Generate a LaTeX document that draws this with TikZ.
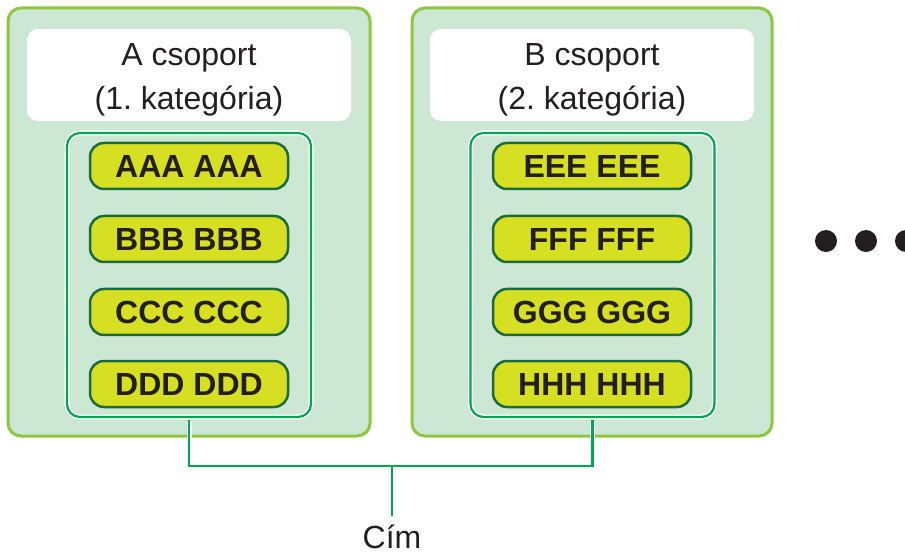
\documentclass[tikz,border=0pt]{standalone}
\usepackage{fontspec}
\setmainfont{Liberation Sans}
\frenchspacing
\definecolor{outerfill}{HTML}{CDE7D5}
\definecolor{outerline}{HTML}{8DC63F}
\definecolor{innerline}{HTML}{00A651}
\definecolor{pillfill}{HTML}{D7DF23}
\definecolor{pillline}{HTML}{1A6B3A}
\definecolor{ink}{HTML}{231F20}
\tikzset{
  outerbox/.style={draw=outerline, line width=3pt, fill=outerfill, rounded corners=13pt, minimum height=428pt, inner sep=0pt},
  titlebox/.style={fill=white, rounded corners=11pt, minimum width=324pt, minimum height=92pt, inner sep=0pt},
  titletext/.style={anchor=base, inner sep=0pt, text=ink, font=\fontsize{32}{36}\selectfont},
  innerbox/.style={draw=white, line width=5pt, rounded corners=13pt, minimum width=244pt, minimum height=284pt, inner sep=0pt,
    postaction={draw=innerline, line width=2.2pt, rounded corners=13pt}},
  pill/.style={draw=pillline, line width=2.5pt, fill=pillfill, rounded corners=14pt, minimum width=198pt, minimum height=46pt, inner sep=0pt, text=ink, font=\fontsize{32}{34}\selectfont\bfseries},
  linkhalo/.style={draw=white, line width=5pt},
  link/.style={draw=innerline, line width=2.5pt},
  label/.style={text=ink, inner sep=0pt, font=\fontsize{32}{34}\selectfont},
  dot/.style={fill=ink, circle, minimum size=22pt, inner sep=0pt}
}
\begin{document}
\begin{tikzpicture}[x=1pt, y=-1pt]
\useasboundingbox (0,0) rectangle (905,553);
% outer group boxes
\node[outerbox, minimum width=362pt] (outerA) at (189,222) {};
\node[outerbox, minimum width=360pt] (outerB) at (592,222) {};
% title boxes
\node[titlebox] (titleA) at (189,75) {};
\node[titlebox] (titleB) at (592,75) {};
\node[titletext] (titleA1) at (189,66) {A csoport};
\node[titletext] (titleA2) at (189,110) {(1. kategória)};
\node[titletext] (titleB1) at (592,66) {B csoport};
\node[titletext] (titleB2) at (592,110) {(2. kategória)};
% inner boxes
\node[innerbox] (innerA) at (189,275) {};
\node[innerbox] (innerB) at (592.5,275) {};
% pills
\node[pill] (a1) at (189,166) {AAA AAA};
\node[pill] (a2) at (189,239) {BBB BBB};
\node[pill] (a3) at (189,312) {CCC CCC};
\node[pill] (a4) at (189,384) {DDD DDD};
\node[pill] (b1) at (592,166) {EEE EEE};
\node[pill] (b2) at (592,239) {FFF FFF};
\node[pill] (b3) at (592,312) {GGG GGG};
\node[pill] (b4) at (592,384) {HHH HHH};
% dots
\node[dot] (d1) at (826,241) {};
\node[dot] (d2) at (866,241) {};
\node[dot] (d3) at (906,241) {};
% label
\node[label, anchor=base] (cim) at (392,548) {Cím};
\coordinate (mid) at (392,466);
\coordinate (stemend) at (392,516);
% connectors
\draw[linkhalo] ([yshift=-2pt]innerA.south) |- (mid) -| ([yshift=-2pt]innerB.south);
\draw[link] (innerA.south) |- (mid) -| (innerB.south);
\draw[link] (mid) -- (stemend);
\end{tikzpicture}
\end{document}
